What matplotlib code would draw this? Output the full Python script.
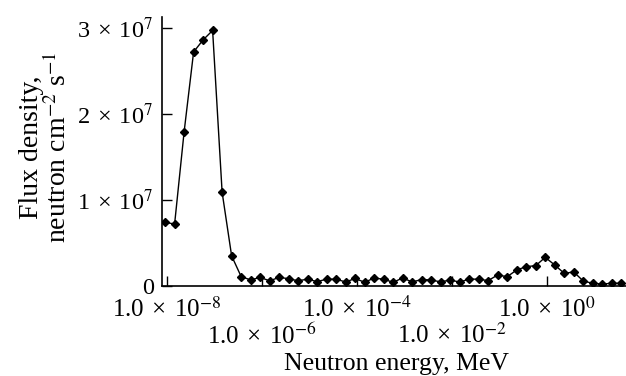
import matplotlib
matplotlib.use("Agg")
import matplotlib.pyplot as plt
import numpy as np

plt.rcParams['font.family'] = ['Liberation Serif', 'DejaVu Serif']
plt.rcParams['mathtext.fontset'] = 'stix'

# log10 of neutron energy (MeV), one point every 0.2 decade
log_energy = [-8.04, -7.84, -7.64, -7.44, -7.24, -7.04, -6.84, -6.64, -6.44, -6.24,
              -6.04, -5.84, -5.64, -5.44, -5.24, -5.04, -4.84, -4.64, -4.44, -4.24,
              -4.04, -3.84, -3.64, -3.44, -3.24, -3.04, -2.84, -2.64, -2.44, -2.24,
              -2.04, -1.84, -1.64, -1.44, -1.24, -1.04, -0.84, -0.64, -0.44, -0.24,
              -0.04, 0.16, 0.36, 0.56, 0.76, 0.96, 1.16, 1.36, 1.56]
# flux density, units of 1e7 neutron cm^-2 s^-1
flux = [0.74, 0.72, 1.79, 2.72, 2.86, 2.97, 1.09, 0.35, 0.11, 0.07,
        0.10, 0.06, 0.10, 0.085, 0.06, 0.08, 0.05, 0.08, 0.078, 0.047,
        0.087, 0.043, 0.093, 0.078, 0.043, 0.093, 0.047, 0.075, 0.07, 0.047,
        0.07, 0.045, 0.081, 0.078, 0.063, 0.128, 0.108, 0.186, 0.225, 0.236,
        0.333, 0.244, 0.147, 0.163, 0.058, 0.031, 0.023, 0.031, 0.031]

sp = ' \u200a'  # a bit wider than a plain space around the times sign
# upper row of x labels and lower (staggered) row
xticks_top = [1e-8, 1e-4, 1e0]
xlabels_top = [f'1.0{sp}×{sp}10$^{{-8}}$', f'1.0{sp}×{sp}10$^{{-4}}$', f'1.0{sp}×{sp}10$^{{0}}$']
xticks_low = [1e-6, 1e-2]
xlabels_low = [f'1.0{sp}×{sp}10$^{{-6}}$', f'1.0{sp}×{sp}10$^{{-2}}$']
yticks = [0, 1e7, 2e7, 3e7]
ytick_labels = ['0', f'1{sp}×{sp}10$^{{7}}$', f'2{sp}×{sp}10$^{{7}}$', f'3{sp}×{sp}10$^{{7}}$']

energy = 10.0 ** np.array(log_energy)
flux = np.array(flux) * 1e7

fig = plt.figure(figsize=(6.26, 3.76), dpi=100)
ax = fig.add_axes([0.2588, 0.2394, 0.7412, 0.7158])

ax.plot(energy, flux, color='black', lw=1.0, marker='D', markersize=4.5)
ax.set_xscale('log')
ax.set_xlim(10 ** -8.105, 10 ** 1.66)
ax.set_ylim(0, 3.128e7)

ax.set_xticks(xticks_top)
ax.set_xticklabels(xlabels_top, fontsize=18)
ax.set_xticks(xticks_low, minor=True)
ax.set_xticklabels(xlabels_low, minor=True, fontsize=18)
ax.set_yticks(yticks)
ax.set_yticklabels(ytick_labels, fontsize=17.5)
ax.tick_params(direction='in', length=7, width=1)
ax.tick_params(axis='x', which='major', pad=8)
ax.tick_params(axis='x', which='minor', direction='in', length=7, width=1, pad=27)
ax.tick_params(axis='y', pad=6)

for s in ['top', 'right']:
    ax.spines[s].set_visible(False)
for s in ['left', 'bottom']:
    ax.spines[s].set_linewidth(1.2)

ax.set_xlabel('Neutron energy, MeV', fontsize=18.5)
ax.xaxis.set_label_coords(0.506, -0.25)
ax.set_ylabel('Flux density,\n' + 'neutron cm$^{-2}$ s$^{-1}$', fontsize=20,
              linespacing=1.0)
ax.yaxis.set_label_coords(-0.194, 0.515)

plt.savefig('out.png', dpi=100)
